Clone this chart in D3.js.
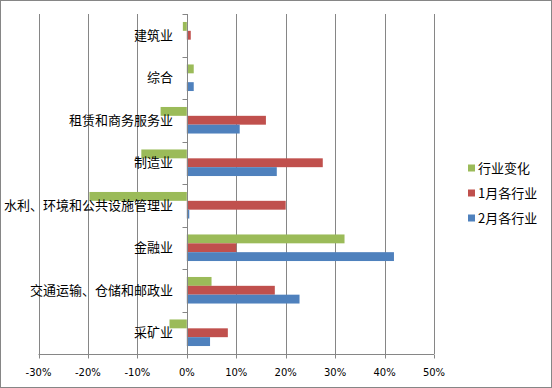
<!DOCTYPE html>
<html>
<head>
<meta charset="utf-8">
<script src="https://cdn.jsdelivr.net/npm/d3@7"></script>
<style>
  body { margin: 0; background: #fff; }
  svg { display: block; }
</style>
</head>
<body>
<svg width="552" height="388"></svg>
<script>
// datos (en %)
const categorias = ["建筑业", "综合", "租赁和商务服务业", "制造业", "水利、环境和公共设施管理业", "金融业", "交通运输、仓储和邮政业", "采矿业"];
const cambio = [-0.8, 1.4, -5.3, -9.2, -19.7, 31.9, 5.0, -3.5];
const enero = [0.8, 0, 16.0, 27.5, 20.0, 10.0, 17.8, 8.3];
const febrero = [0, 1.4, 10.7, 18.2, 0.5, 41.9, 22.8, 4.7];
const series = ["行业变化", "1月各行业", "2月各行业"];
const colores = ["#9BBB59", "#C0504D", "#4F81BD"];
const ticksX = [-30, -20, -10, 0, 10, 20, 30, 40, 50];

const svg = d3.select("svg");

// borde exterior
svg.append("rect")
    .attr("x", 0.5).attr("y", 0.5)
    .attr("width", 551).attr("height", 387)
    .attr("fill", "#fff")
    .attr("stroke", "#868686");

const x = d3.scaleLinear().domain([-30, 50]).range([38.5, 434]);
const y = d3.scaleBand().domain(categorias).range([14, 354]);
const sub = d3.scaleBand().domain(series)
    .range([0, y.bandwidth()])
    .paddingOuter(0.9).paddingInner(0);

// líneas de cuadrícula verticales
svg.append("g")
    .selectAll("line")
    .data(ticksX)
    .enter().append("line")
    .attr("x1", d => Math.round(x(d)) + 0.5)
    .attr("x2", d => Math.round(x(d)) + 0.5)
    .attr("y1", 14)
    .attr("y2", 354)
    .attr("stroke", "#868686")
    .attr("stroke-width", 1);

// barras
const valores = [cambio, enero, febrero];
const filas = [];
categorias.forEach((c, i) => {
  series.forEach((s, j) => {
    filas.push({ cat: c, serie: s, v: valores[j][i], color: colores[j] });
  });
});

svg.append("g")
    .selectAll("rect")
    .data(filas)
    .enter().append("rect")
    .attr("x", d => x(Math.min(0, d.v)))
    .attr("y", d => y(d.cat) + sub(d.serie))
    .attr("width", d => Math.abs(x(d.v) - x(0)))
    .attr("height", sub.bandwidth())
    .attr("fill", d => d.color);

// eje Y en 0%
const ejeY = svg.append("g").attr("transform", "translate(" + (Math.round(x(0)) + 0.5) + ",0)");
ejeY.append("line")
    .attr("y1", 14).attr("y2", 354)
    .attr("stroke", "#868686");
const limites = categorias.map(c => y(c)).concat([354]);
ejeY.selectAll(".tick")
    .data(limites)
    .enter().append("line")
    .attr("x1", -5).attr("x2", 0)
    .attr("y1", d => Math.round(d) + 0.5)
    .attr("y2", d => Math.round(d) + 0.5)
    .attr("stroke", "#868686");

// etiquetas de categorías
svg.append("g")
    .selectAll("text")
    .data(categorias)
    .enter().append("text")
    .attr("x", 173)
    .attr("y", d => y(d) + y.bandwidth() / 2)
    .attr("dy", "0.35em")
    .attr("text-anchor", "end")
    .attr("font-family", "Noto Sans CJK SC")
    .attr("font-size", 13)
    .attr("fill", "#000")
    .text(d => d);

// eje X
const ejeX = svg.append("g").attr("transform", "translate(0,354.5)");
ejeX.append("line")
    .attr("x1", x(-30)).attr("x2", x(50))
    .attr("stroke", "#868686");
ejeX.selectAll(".tick")
    .data(ticksX)
    .enter().append("line")
    .attr("x1", d => Math.round(x(d)) + 0.5)
    .attr("x2", d => Math.round(x(d)) + 0.5)
    .attr("y1", 0).attr("y2", 4)
    .attr("stroke", "#868686");
ejeX.selectAll("text")
    .data(ticksX)
    .enter().append("text")
    .attr("x", d => x(d))
    .attr("y", 18)
    .attr("dy", "0.35em")
    .attr("text-anchor", "middle")
    .attr("font-family", "DejaVu Sans")
    .attr("font-size", 10)
    .attr("fill", "#000")
    .text(d => d + "%");

// leyenda
const leyenda = svg.append("g").attr("transform", "translate(468,168)");
const item = leyenda.selectAll("g")
    .data(series)
    .enter().append("g")
    .attr("transform", (d, i) => "translate(0," + i * 25 + ")");
item.append("rect")
    .attr("x", 0).attr("y", -3.5)
    .attr("width", 7).attr("height", 7)
    .attr("fill", (d, i) => colores[i]);
item.append("text")
    .attr("x", 10)
    .attr("y", 0)
    .attr("dy", "0.35em")
    .attr("font-family", "Noto Sans CJK SC")
    .attr("font-size", 13)
    .attr("fill", "#000")
    .text(d => d);
</script>
</body>
</html>
